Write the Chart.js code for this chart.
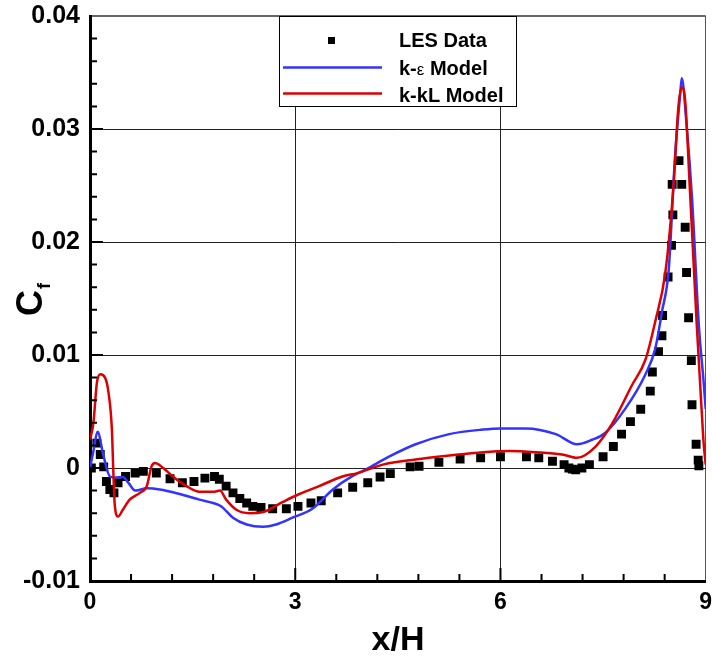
<!DOCTYPE html>
<html>
<head>
<meta charset="utf-8">
<script src="https://cdn.jsdelivr.net/npm/chart.js@4.4.0/dist/chart.umd.min.js"></script>
<style>
  html, body { margin: 0; padding: 0; background: #fff; }
  #wrap { width: 712px; height: 657px; }
</style>
</head>
<body>
<div id="wrap"><canvas id="cfChart" width="712" height="657"></canvas></div>
<script>
// LES data (squares)
var lesX = [0.02, 0.1, 0.15, 0.2, 0.24, 0.29, 0.35, 0.41, 0.52, 0.66, 0.78, 0.97, 1.17, 1.35, 1.52, 1.68, 1.82, 1.89, 1.99, 2.09,
  2.19, 2.29, 2.38, 2.5, 2.67, 2.87, 3.04, 3.23, 3.38, 3.62, 3.84, 4.06, 4.24, 4.39, 4.68, 4.81, 5.1, 5.41, 5.71, 6.0,
  6.38, 6.56, 6.76, 6.93, 7.0, 7.05, 7.1, 7.19, 7.3, 7.5, 7.65, 7.77, 7.9, 8.05, 8.19, 8.22, 8.31, 8.36, 8.37, 8.45,
  8.5, 8.52, 8.51, 8.61, 8.65, 8.7, 8.72, 8.75, 8.79, 8.8, 8.86, 8.89, 8.9];
var lesY = [0, 0.0022, 0.0012, 0.0001, -0.0012, -0.0019, -0.0022, -0.0013, -0.00075, -0.00045, -0.0003, -0.00045, -0.00095, -0.0013, -0.0012, -0.0009, -0.00075, -0.001, -0.0016, -0.0022,
  -0.0027, -0.0031, -0.0034, -0.0035, -0.0036, -0.0036, -0.0034, -0.0031, -0.0029, -0.0022, -0.0017, -0.0013, -0.0008, -0.0005, 0.0001, 0.00015, 0.0005, 0.0008, 0.0009, 0.001,
  0.001, 0.0009, 0.0006, 0.0003, 0, -0.0001, -0.00015, 0, 0.0003, 0.001, 0.0019, 0.003, 0.0041, 0.0052, 0.0068, 0.0085, 0.0103, 0.0117, 0.0135, 0.0169,
  0.0197, 0.0224, 0.0251, 0.0272, 0.0251, 0.0213, 0.0173, 0.0133, 0.0095, 0.0056, 0.0021, 0.0007, 0.0002];

// k-epsilon model (blue)
var kepsX = [0, 0.05, 0.11, 0.2, 0.29, 0.36, 0.48, 0.56, 0.66, 0.83, 1.02, 1.31, 1.6, 1.8, 1.92, 2.09, 2.29, 2.53, 2.72, 2.96,
  3.25, 3.55, 3.84, 4.04, 4.37, 4.76, 5.25, 5.74, 6.0, 6.37, 6.81, 7.12, 7.34, 7.53, 7.83, 8.12, 8.26, 8.36, 8.46, 8.55,
  8.63, 8.65, 8.72, 8.8, 8.9, 8.97, 9.0];
var kepsY = [0, 0.0015, 0.0032, 0.001, -0.00075, -0.00083, -0.0008, -0.0013, -0.002, -0.0018, -0.0019, -0.0023, -0.0028, -0.0031, -0.0034, -0.0044, -0.005, -0.0052, -0.005, -0.0044,
  -0.0036, -0.0019, -0.0007, -0.0001, 0.001, 0.0021, 0.003, 0.0034, 0.0035, 0.0035, 0.003, 0.0021, 0.0025, 0.0031, 0.0053, 0.0083, 0.0105, 0.0138, 0.0176, 0.0274,
  0.0333, 0.0345, 0.0304, 0.0239, 0.0126, 0.0076, 0.0052];

// k-kL model (red)
var kklX = [0, 0.05, 0.1, 0.15, 0.22, 0.27, 0.32, 0.34, 0.36, 0.41, 0.48, 0.58, 0.73, 0.83, 0.9, 0.95, 1.07, 1.21, 1.41, 1.6,
  1.8, 1.9, 1.99, 2.14, 2.33, 2.53, 2.82, 3.06, 3.35, 3.69, 3.91, 4.28, 4.76, 5.25, 5.74, 6.13, 6.52, 6.9, 7.12, 7.39,
  7.63, 7.92, 8.12, 8.26, 8.41, 8.53, 8.6, 8.65, 8.7, 8.77, 8.87, 8.94, 8.97, 9.0];
var kklY = [0.0025, 0.004, 0.0075, 0.0083, 0.008, 0.0067, 0.0034, -0.00015, -0.0031, -0.0043, -0.0037, -0.0028, -0.0022, -0.0016, 0.00015, 0.00045, 0, -0.00075, -0.0016, -0.0021,
  -0.0021, -0.002, -0.0028, -0.0037, -0.004, -0.0039, -0.003, -0.0023, -0.0016, -0.00075, -0.00045, 0.0003, 0.00075, 0.0011, 0.0014, 0.0015, 0.0014, 0.0012, 0.0009, 0.0019,
  0.0039, 0.0073, 0.0096, 0.0129, 0.0173, 0.025, 0.0319, 0.0337, 0.0325, 0.0245, 0.0126, 0.0052, 0.0022, 0.0003];

var xTickVals = [0, 3, 6, 9];
var xTickLabels = ['0', '3', '6', '9'];
var yTickVals = [-0.01, 0, 0.01, 0.02, 0.03, 0.04];
var yTickLabels = ['-0.01', '0', '0.01', '0.02', '0.03', '0.04'];
var seriesNames = ['LES Data', 'k-\u03b5 Model', 'k-kL Model'];

var BLUE = '#3333ff', RED = '#dd0000';
var FONT = '"Liberation Sans", Arial, Helvetica, sans-serif';

function toPoints(xs, ys) {
  return xs.map(function(x, i) { return {x: x, y: ys[i]}; });
}

function findLabel(vals, labels, v) {
  for (var i = 0; i < vals.length; i++) {
    if (Math.abs(vals[i] - v) < 1e-9) return labels[i];
  }
  return '';
}

var decor = {
  id: 'decor',
  afterDatasetsDraw: function(chart) {
    var ctx = chart.ctx, a = chart.chartArea, xs = chart.scales.x, ys = chart.scales.y;
    ctx.save();
    ctx.strokeStyle = '#000';
    ctx.lineWidth = 2;
    ctx.beginPath();
    // inward ticks, x axis: minor every 0.6
    for (var i = 1; i < 15; i++) {
      var v = i * 0.6, px = xs.getPixelForValue(v), len = (i % 5 === 0) ? 13 : 7;
      ctx.moveTo(px, a.bottom); ctx.lineTo(px, a.bottom - len);
    }
    // y axis: minor every 0.002
    for (var j = 1; j < 25; j++) {
      var w = -0.01 + j * 0.002, py = ys.getPixelForValue(w), l2 = (j % 5 === 0) ? 13 : 7;
      ctx.moveTo(a.left, py); ctx.lineTo(a.left + l2, py);
    }
    ctx.stroke();
    ctx.restore();
  },
  afterDraw: function(chart) {
    var ctx = chart.ctx, ds = chart.data.datasets;
    ctx.save();
    // legend box
    var bx = 279.5, by = 16.5, bw = 237, bh = 90;
    ctx.fillStyle = '#fff';
    ctx.fillRect(bx, by, bw, bh);
    ctx.strokeStyle = '#000';
    ctx.lineWidth = 1;
    ctx.strokeRect(bx, by, bw, bh);
    ctx.fillStyle = '#000';
    ctx.fillRect(328, 37, 7, 7);
    ctx.lineWidth = 2.5;
    ctx.strokeStyle = ds[1].borderColor;
    ctx.beginPath(); ctx.moveTo(283, 67.5); ctx.lineTo(382, 67.5); ctx.stroke();
    ctx.strokeStyle = ds[2].borderColor;
    ctx.beginPath(); ctx.moveTo(283, 93.5); ctx.lineTo(382, 93.5); ctx.stroke();
    ctx.fillStyle = '#000';
    ctx.textBaseline = 'alphabetic';
    ctx.textAlign = 'left';
    ctx.font = 'bold 20px ' + FONT;
    ctx.fillText(seriesNames[0], 399, 47);
    // k-ε with a lighter epsilon, as in the original
    var t = 'k-', x0 = 399;
    ctx.fillText(t, x0, 75);
    x0 += ctx.measureText(t).width;
    ctx.font = '17px ' + FONT;
    ctx.fillText('\u03b5', x0, 75);
    x0 += ctx.measureText('\u03b5').width;
    ctx.font = 'bold 20px ' + FONT;
    ctx.fillText(' Model', x0, 75);
    ctx.fillText(seriesNames[2], 399, 102);

    // axis titles
    ctx.font = 'bold 34px ' + FONT;
    ctx.textAlign = 'center';
    ctx.fillText('x/H', 398, 650);
    ctx.translate(42, 316);
    ctx.rotate(-Math.PI / 2);
    ctx.textAlign = 'left';
    ctx.font = 'bold 36px ' + FONT;
    ctx.fillText('C', 0, 0);
    var cw = ctx.measureText('C').width;
    ctx.font = 'bold 18px ' + FONT;
    ctx.fillText('f', cw + 1, 8);
    ctx.restore();
  }
};

var ctx = document.getElementById('cfChart').getContext('2d');
var cfChart = new Chart(ctx, {
  type: 'scatter',
  data: {
    datasets: [
      {
        label: seriesNames[0],
        data: toPoints(lesX, lesY),
        pointStyle: 'rect',
        pointRadius: 6.3,
        pointHoverRadius: 6.3,
        backgroundColor: '#000',
        borderColor: '#000',
        borderWidth: 0,
        order: 3
      },
      {
        label: seriesNames[1],
        data: toPoints(kepsX, kepsY),
        showLine: true,
        pointRadius: 0,
        borderColor: BLUE,
        borderWidth: 2.5,
        cubicInterpolationMode: 'monotone',
        order: 2
      },
      {
        label: seriesNames[2],
        data: toPoints(kklX, kklY),
        showLine: true,
        pointRadius: 0,
        borderColor: RED,
        borderWidth: 2.5,
        cubicInterpolationMode: 'monotone',
        order: 1
      }
    ]
  },
  options: {
    responsive: false,
    animation: false,
    layout: { padding: { top: 16, right: 5, left: 0, bottom: 0 } },
    plugins: { legend: { display: false }, tooltip: { enabled: false } },
    scales: {
      x: {
        type: 'linear',
        min: 0, max: 9,
        afterBuildTicks: function(s) { s.ticks = xTickVals.map(function(v) { return {value: v}; }); },
        afterFit: function(s) { s.height = 76; s.paddingLeft = 0; s.paddingRight = 0; },
        ticks: {
          padding: 8,
          color: '#000',
          font: { family: FONT, size: 23, weight: 'bold' },
          callback: function(v) { return findLabel(xTickVals, xTickLabels, v); }
        },
        grid: {
          drawTicks: false,
          lineWidth: 1,
          color: function(c) { return c.tick && c.tick.value === 9 ? '#555' : '#222'; }
        },
        border: { color: '#000', width: 3 }
      },
      y: {
        type: 'linear',
        min: -0.01, max: 0.04,
        afterBuildTicks: function(s) { s.ticks = yTickVals.map(function(v) { return {value: v}; }); },
        afterFit: function(s) { s.width = 90; s.paddingTop = 0; s.paddingBottom = 0; },
        ticks: {
          padding: 10,
          color: '#000',
          font: { family: FONT, size: 25, weight: 'bold' },
          callback: function(v) { return findLabel(yTickVals, yTickLabels, v); }
        },
        grid: {
          drawTicks: false,
          lineWidth: function(c) { return c.tick && Math.abs(c.tick.value - 0.04) < 1e-9 ? 2 : 1; },
          color: function(c) { return c.tick && Math.abs(c.tick.value - 0.04) < 1e-9 ? '#666' : '#222'; }
        },
        border: { color: '#000', width: 3 }
      }
    }
  },
  plugins: [decor]
});
</script>
</body>
</html>
